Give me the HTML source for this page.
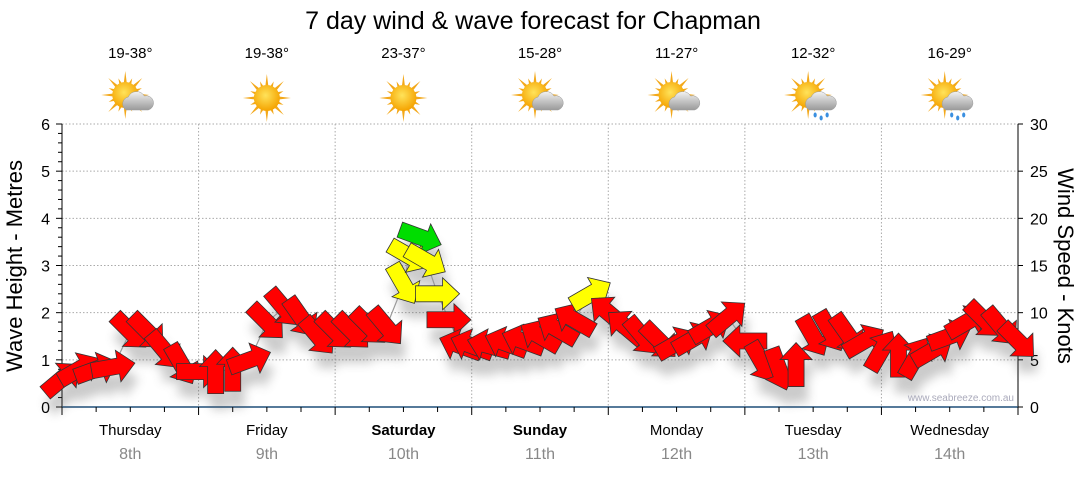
<!DOCTYPE html>
<html><head><meta charset="utf-8">
<style>
body{margin:0;background:#fff;width:1080px;height:475px;overflow:hidden;font-family:"Liberation Sans",sans-serif}
svg text{font-family:"Liberation Sans",sans-serif}
</style></head>
<body>
<svg id="chart" width="1080" height="475" viewBox="0 0 1080 475">
<defs>
<filter id="sh" x="-50%" y="-50%" width="200%" height="200%"><feGaussianBlur stdDeviation="5"/></filter>
<radialGradient id="sunG" cx="45%" cy="40%" r="60%"><stop offset="0" stop-color="#ffe35a"/><stop offset="1" stop-color="#f5a300"/></radialGradient>
<linearGradient id="cloudG" x1="0" y1="0" x2="0" y2="1"><stop offset="0" stop-color="#f2f2f2"/><stop offset="1" stop-color="#9a9a9a"/></linearGradient>
</defs>
<text x="533" y="29" font-size="25" text-anchor="middle" fill="#000">7 day wind &amp; wave forecast for Chapman</text>
<g id="grid"></g>
<g id="icons"></g>
<g id="axes"></g>
<g id="shadows" filter="url(#sh)" opacity="0.3"></g>
<polyline id="waveLine" fill="none" stroke="#999" stroke-width="1.2"></polyline>
<g id="arrows"></g>
<text x="1014" y="401" font-size="10" fill="#aab" text-anchor="end">www.seabreeze.com.au</text>
<text transform="translate(22,266) rotate(-90)" font-size="22" text-anchor="middle" fill="#000">Wave Height - Metres</text>
<text transform="translate(1058,266) rotate(90)" font-size="22" text-anchor="middle" fill="#000">Wind Speed - Knots</text>
</svg>
<script>
const days=["Thursday","Friday","Saturday","Sunday","Monday","Tuesday","Wednesday"];
const dates=["8th","9th","10th","11th","12th","13th","14th"];
const boldDays=[false,false,true,true,false,false,false];
const temps=["19-38°","19-38°","23-37°","15-28°","11-27°","12-32°","16-29°"];
const weather=["suncloud","sun","sun","suncloud","suncloud","rain","rain"];
const leftTicks=[0,1,2,3,4,5,6];
const rightTicks=[0,5,10,15,20,25,30];
const hours=[0,3,6,9,12,15,18,21,24,27,30,33,36,39,42,45,48,51,54,57,60,61,63,64,66,68,70,72,75,78,81,84,87,90,93,96,99,102,105,108,111,114,117,120,123,126,129,132,135,138,141,144,147,150,153,156,159,162,165,168];
const waveH=[0.6,0.8,0.8,0.85,1.6,1.6,1.2,0.9,0.75,0.75,0.8,1.0,1.8,2.1,1.9,1.5,1.6,1.6,1.7,1.7,2.6,3.2,3.6,3.1,2.4,1.85,1.3,1.3,1.3,1.35,1.4,1.5,1.65,1.85,2.4,2.0,1.7,1.5,1.4,1.35,1.45,1.7,1.9,1.4,0.95,0.8,0.9,1.5,1.6,1.55,1.4,1.2,1.1,1.05,1.2,1.5,1.8,1.85,1.7,1.4];
const windDir=[-40,-30,-20,-10,45,45,50,60,0,-90,-90,-20,45,50,55,50,45,45,45,50,60,30,20,30,0,0,-160,-160,-165,-160,-160,-150,-150,-150,-30,-140,-140,50,45,-30,-30,-30,-40,180,60,70,-90,60,60,55,-30,-60,-90,-60,-30,-20,-30,45,50,45];
const windCat=[0,0,0,0,0,0,0,0,0,0,0,0,0,0,0,0,0,0,0,0,1,1,2,1,1,0,0,0,0,0,0,0,0,0,1,0,0,0,0,0,0,0,0,0,0,0,0,0,0,0,0,0,0,0,0,0,0,0,0,0];
const catColors=["#ff0000","#ffff00","#00dd00"];

const NS="http://www.w3.org/2000/svg";
const X0=62,X1=1018,Y0=407,Y6=124;
const xS=h=>X0+h*(X1-X0)/168;
const yL=v=>Y0-v*(Y0-Y6)/6;
const yR=v=>Y0-v*(Y0-Y6)/30;
function mk(tag,attrs,parent){const e=document.createElementNS(NS,tag);for(const k in attrs)e.setAttribute(k,attrs[k]);parent.appendChild(e);return e;}
const grid=document.getElementById('grid'),axes=document.getElementById('axes'),icons=document.getElementById('icons');
leftTicks.forEach(v=>{if(v>0){const l=mk('line',{x1:X0,x2:X1,y1:yL(v),y2:yL(v),stroke:'#aaa','stroke-dasharray':'1.5,2'},grid);

}
const t=mk('text',{x:50,y:yL(v)+6,'font-size':16,'text-anchor':'end',fill:'#000'},axes);t.textContent=v;

});
for(let m=0;m<=30;m++){const y=Y0-m*(Y0-Y6)/30;mk('line',{x1:X0-(m%5==0?6:4),x2:X0,y1:y,y2:y,stroke:'#000'},axes);}
rightTicks.forEach(v=>{const t=mk('text',{x:1030,y:yR(v)+6,'font-size':16,fill:'#000'},axes);t.textContent=v;


mk('line',{x1:X1,x2:X1+5,y1:yR(v),y2:yR(v),stroke:'#000'},axes);});
mk('line',{x1:X0,x2:X0,y1:Y6,y2:Y0,stroke:'#000'},axes);
mk('line',{x1:X1,x2:X1,y1:Y6,y2:Y0,stroke:'#000'},axes);
for(let d=1;d<7;d++){const l=mk('line',{x1:xS(d*24),x2:xS(d*24),y1:Y6,y2:Y0,stroke:'#aaa','stroke-dasharray':'1.5,2'},grid);

}
mk('line',{x1:X0,x2:X1,y1:Y0,y2:Y0,stroke:'#1f4e79','stroke-width':1.5},axes);
for(let h=0;h<=168;h+=6){mk('line',{x1:xS(h),x2:xS(h),y1:Y0,y2:Y0+(h%24==0?8:5),stroke:'#000'},axes);}
days.forEach((d,i)=>{const cx=xS(i*24+12);
const t=mk('text',{x:cx,y:435,'font-size':15,'text-anchor':'middle',fill:'#000','font-weight':boldDays[i]?'bold':'normal'},axes);t.textContent=d;


const t2=mk('text',{x:cx,y:459,'font-size':16,'text-anchor':'middle',fill:'#888'},axes);t2.textContent=dates[i];


const t3=mk('text',{x:cx,y:58,'font-size':15,'text-anchor':'middle',fill:'#000'},icons);t3.textContent=temps[i];


const g=mk('g',{transform:`translate(${cx},98)`},icons);


const sx=weather[i]=='sun'?0:-5,sy=weather[i]=='sun'?0:-3;
for(let k=0;k<16;k++){const a=k*Math.PI/8,L=k%2?18:24;mk('polygon',{points:`${sx+Math.cos(a)*L},${sy+Math.sin(a)*L} ${sx+Math.cos(a+0.15)*11},${sy+Math.sin(a+0.15)*11} ${sx+Math.cos(a-0.15)*11},${sy+Math.sin(a-0.15)*11}`,fill:'#f3a81a'},g);}
mk('circle',{cx:sx,cy:sy,r:13,fill:'url(#sunG)'},g);
if(weather[i]!='sun'){mk('path',{d:'M-4,12 a7,7 0 0 1 2,-13 a9,9 0 0 1 16,-1 a6,6 0 0 1 4,14 z',fill:'url(#cloudG)',stroke:'#999','stroke-width':0.5},g);}
if(weather[i]=='rain'){[[2,17],[8,20],[14,17]].forEach(p=>mk('ellipse',{cx:p[0],cy:p[1],rx:1.6,ry:2.5,fill:'#3a8fe0'},g));}
});
const pts=hours.map((h,i)=>xS(h)+','+yL(waveH[i])).join(' ');
document.getElementById('waveLine').setAttribute('points',pts);
const arrowPath='M-22,-8 L5,-8 L5,-16 L22,0 L5,16 L5,8 L-22,8 Z';
const sh=document.getElementById('shadows'),ar=document.getElementById('arrows');
hours.forEach((h,i)=>{const x=xS(h),y=yL(waveH[i]);
mk('path',{d:arrowPath,transform:`translate(${x+4},${y+16}) rotate(${windDir[i]})`,fill:'#555'},sh);
const p=mk('path',{d:arrowPath,transform:`translate(${x},${y}) rotate(${windDir[i]})`,fill:catColors[windCat[i]],stroke:'#333','stroke-width':0.8},ar);


});
</script>
</body></html>
